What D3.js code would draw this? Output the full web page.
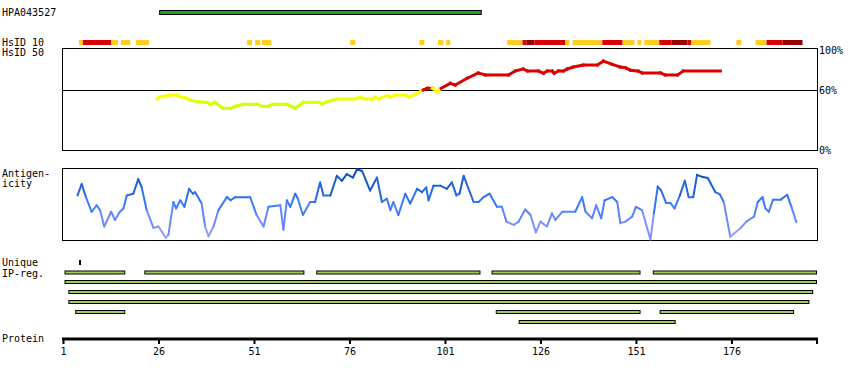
<!DOCTYPE html>
<html><head><meta charset="utf-8">
<script src="https://cdn.jsdelivr.net/npm/d3@7"></script>
<style>
body{margin:0;background:#fff;}
svg text{font-family:"DejaVu Sans Mono",monospace;font-size:10px;fill:#000;}
</style></head>
<body><svg id="c" width="850" height="380"></svg>
<script>
// ---------- DATA ----------
const antibodyName = "HPA043527";
const antibodyRange = [26.3, 110.5];
const protTicks = [1, 26, 51, 76, 101, 126, 151, 176];
const protLength = 198.4;
// HsID 10 identity cells: [start, end, level] level 1=yellow 2=red 3=darkred
const hsid10 = [
 [5.2,6.2,1],[6.2,13.6,2],[13.6,15.4,1],[16.2,18.6,1],[20.1,23.5,1],
 [49.2,50.5,1],[51.3,52.6,1],[53.1,55.5,1],[76.2,77.5,1],[94.3,95.6,1],
 [99.2,100.6,1],[101.3,102.4,1],[117.3,121.3,1],[121.3,122.3,2],[122.3,124.4,3],
 [124.4,132.5,2],[132.5,133.6,1],[134.4,142.2,1],[142.2,147.5,2],[147.5,150.6,1],
 [151.4,152.4,1],[153.2,157.1,1],[157.1,160.3,2],[160.3,164.5,3],[164.5,165.5,2],
 [165.5,170.5,1],[177.3,178.6,1],[182.3,185.2,1],[185.2,189.4,2],[189.4,194.6,3]
];
// HsID 50 similarity (%) by residue
const simRes = [25.6,26.4,29.0,30.9,31.7,33.0,34.3,36.1,38.7,39.5,40.8,42.9,44.8,46.1,48.2,51.8,53.1,54.7,55.8,59.7,61.8,63.9,67.8,68.9,70.2,72.8,77.5,78.8,80.1,82.0,82.7,83.5,85.9,86.7,88.0,90.6,91.7,93.2,95.3,96.4,97.7,99.0,100.0,102.4,103.7,106.8,109.7,111.6,117.6,119.4,121.5,122.6,125.4,126.8,127.8,129.1,129.6,130.7,132.0,133.0,134.6,137.2,140.9,142.5,144.8,146.9,148.2,149.6,151.6,152.7,157.4,158.7,161.9,163.4,173.1];
const simVal = [51.3,53.3,55.3,55.3,53.3,52.6,50.3,48.5,47.9,45.9,47.9,41.9,41.9,43.9,45.9,45.9,43.9,43.9,45.9,45.9,41.9,47.9,47.9,46.5,48.5,51.3,51.3,53.0,51.3,51.3,53.0,51.3,54.6,53.3,55.3,55.3,53.3,56.0,60.3,62.0,62.0,58.6,62.0,67.0,65.3,72.1,77.4,75.4,75.4,79.4,81.4,79.4,79.4,77.1,79.4,79.4,77.1,79.4,79.4,81.4,83.4,85.4,85.4,89.4,86.1,83.4,82.7,80.1,79.4,77.4,77.4,75.4,75.4,79.4,79.4];
const simTicks = [0, 60, 100];
// Antigenicity by residue (relative score 0-100)
const antRes = [4.8,5.9,7.0,8.5,9.8,10.7,11.8,13.6,14.6,15.9,16.8,17.7,19.4,20.7,21.6,22.9,24.7,26.0,27.9,28.6,29.9,30.6,31.7,32.8,34.0,35.0,35.6,37.3,38.2,39.1,40.4,41.7,43.9,44.9,46.1,47.4,50.0,51.7,53.5,54.8,57.9,58.7,59.6,60.5,61.8,62.5,63.8,65.7,67.0,68.3,69.2,71.0,72.7,74.0,75.3,76.9,78.0,79.3,81.4,83.2,84.5,85.8,86.7,87.5,88.8,90.6,91.9,93.7,95.0,96.1,96.7,98.0,99.8,101.5,102.8,104.0,104.8,105.9,108.5,109.8,111.1,112.7,114.6,115.9,117.1,119.0,120.3,122.0,123.4,124.8,126.0,127.7,129.0,129.9,131.7,135.1,136.9,137.8,139.5,140.6,141.9,142.8,144.8,146.1,146.9,148.2,150.0,151.0,152.6,154.8,155.7,156.7,157.6,158.9,160.0,161.1,162.5,163.8,164.8,166.0,167.0,168.3,169.8,171.8,173.0,174.0,175.7,178.4,179.9,181.9,182.9,184.1,184.9,185.8,186.9,188.9,190.6,191.7,193.0];
const antVal = [62.5,78.8,60.1,39.3,48.6,41.7,18.5,39.3,27.8,39.3,44.0,62.5,64.9,85.7,74.0,41.7,16.3,18.5,2.4,6.9,53.2,44.0,55.6,46.3,71.8,64.9,67.1,51.0,18.5,4.6,18.5,41.7,60.1,55.6,60.1,60.1,60.1,34.7,18.5,46.3,48.6,13.9,55.6,46.3,64.9,57.9,34.7,53.2,53.2,81.0,62.5,62.5,90.3,83.3,92.6,87.9,99.6,97.2,69.4,87.9,53.2,57.9,41.7,53.2,34.7,64.9,51.0,71.8,67.1,74.0,55.6,76.4,76.4,71.8,81.0,62.5,64.9,90.3,53.2,53.2,60.1,64.9,46.3,46.3,25.4,20.8,25.4,42.6,34.7,10.1,25.4,18.5,37.1,27.8,39.3,39.3,60.1,39.3,30.1,48.6,30.1,55.6,60.1,53.2,23.2,25.4,32.4,46.3,41.7,0,37.1,75.0,69.4,51.8,51.8,44.0,62.5,83.3,60.1,60.1,91.7,88.9,87.1,67.1,63.9,53.2,3.8,16.3,25.4,32.4,53.2,60.1,44.0,39.3,56.5,56.5,63.5,46.3,24.6];
// Unique / IP regions: rows of [start, end]
const uniqueRes = [5.2];
const ipRows = [
 [[1.4,17.3],[22.3,64.2],[67.3,110.3],[113.2,152.2],[155.4,198.4]],
 [[1.4,198.4]],
 [[2.4,197.4]],
 [[2.4,196.4]],
 [[4.2,17.3],[114.3,152.2],[157.2,192.4]],
 [[120.3,161.4]]
];

// ---------- DRAW ----------
const svg = d3.select("#c");
const x = d3.scaleLinear().domain([1, protLength]).range([63, 817]);

// left labels
const labels = [["HPA043527",16],["HsID 10",46],["HsID 50",56],["Antigen-",176.5],["icity",186.5],["Unique",266],["IP-reg.",277],["Protein",342]];
svg.selectAll("text.lbl").data(labels).join("text").attr("class","lbl")
  .attr("x",2).attr("y",d=>d[1]).text(d=>d[0]);

// antibody bar
svg.append("rect").attr("x",x(antibodyRange[0])).attr("y",10.5)
  .attr("width",x(antibodyRange[1])-x(antibodyRange[0])).attr("height",4)
  .attr("fill","#22a022").attr("stroke","#000").attr("stroke-width",1);

// HsID 10
const hsColor = {1:"#ffcc22",2:"#dd0000",3:"#990000"};
svg.selectAll("rect.h10").data(hsid10).join("rect").attr("class","h10")
  .attr("x",d=>x(d[0])).attr("y",40).attr("width",d=>x(d[1])-x(d[0])).attr("height",5)
  .attr("fill",d=>hsColor[d[2]]);

// HsID 50 box
const ys = d3.scaleLinear().domain([0,100]).range([150,50.5]);
svg.append("rect").attr("x",62.5).attr("y",48.5).attr("width",755).attr("height",102)
  .attr("fill","none").attr("stroke","#000").attr("stroke-width",1);
svg.append("line").attr("x1",62.5).attr("x2",817.5).attr("y1",Math.round(ys(60))+0.5).attr("y2",Math.round(ys(60))+0.5)
  .attr("stroke","#000").attr("stroke-width",1);
const simAxis = svg.append("g").attr("transform","translate(817,0)")
  .call(d3.axisRight(ys).tickValues(simTicks).tickSize(0).tickPadding(2).tickFormat(d=>d+"%"));
simAxis.select(".domain").remove();
simAxis.selectAll("text").attr("font-family",null).attr("font-size",null);
simAxis.attr("font-family",null).attr("font-size",null);

const lowCol = d3.scaleLinear().domain([42,48,54]).range(["#ccff00","#ddff00","#ffff00"]).clamp(true);
const simColor = v => v >= 60 ? "#dd0000" : lowCol(v);
const simSegs = d3.range(simRes.length-1).map(i=>({x1:simRes[i],y1:simVal[i],x2:simRes[i+1],y2:simVal[i+1]}));
svg.selectAll("line.sim").data(simSegs).join("line").attr("class","sim")
  .attr("x1",d=>x(d.x1)).attr("y1",d=>ys(d.y1)).attr("x2",d=>x(d.x2)).attr("y2",d=>ys(d.y2))
  .attr("stroke",d=>simColor(Math.min(d.y1,d.y2))).attr("stroke-width",3).attr("stroke-linecap","square");

// Antigenicity
const ya = d3.scaleLinear().domain([0,100]).range([239.5,169]);
svg.append("rect").attr("x",62.5).attr("y",168.5).attr("width",755).attr("height",72)
  .attr("fill","none").attr("stroke","#000").attr("stroke-width",1);
const antColor = d3.scaleLinear().domain([0,50,100]).range(["#b0a0ff","#3a7bff","#0048b0"]);
const antSegs = d3.range(antRes.length-1).map(i=>({x1:antRes[i],y1:antVal[i],x2:antRes[i+1],y2:antVal[i+1]}));
svg.selectAll("line.ant").data(antSegs).join("line").attr("class","ant")
  .attr("x1",d=>x(d.x1)).attr("y1",d=>ya(d.y1)).attr("x2",d=>x(d.x2)).attr("y2",d=>ya(d.y2))
  .attr("stroke",d=>antColor((d.y1+d.y2)/2)).attr("stroke-width",2).attr("stroke-linecap","round");

// Unique mark
svg.selectAll("rect.uq").data(uniqueRes).join("rect").attr("class","uq")
  .attr("x",d=>x(d)).attr("y",260).attr("width",2).attr("height",5).attr("fill","#000");

// IP rows
ipRows.forEach((row,ri)=>{
  svg.selectAll("rect.ip"+ri).data(row).join("rect").attr("class","ip"+ri)
    .attr("x",d=>x(d[0])+0.5).attr("y",271+ri*10 - (ri>0?0.5:0)).attr("width",d=>x(d[1])-x(d[0])-1).attr("height",3)
    .attr("fill","#a0cc5c").attr("stroke","#000").attr("stroke-width",1);
});

// Protein axis
const pAxis = svg.append("g").attr("transform","translate(0,339)")
  .call(d3.axisBottom(x).tickValues(protTicks).tickSize(5).tickPadding(4).tickSizeOuter(0).tickFormat(d3.format("d")));
pAxis.attr("font-family",null).attr("font-size",null);
pAxis.select(".domain").remove();
pAxis.selectAll(".tick line").attr("stroke","#000").attr("stroke-width",2);
svg.append("line").attr("x1",x(1)-1).attr("x2",x(protLength)+1).attr("y1",339).attr("y2",339)
  .attr("stroke","#000").attr("stroke-width",3);
svg.append("line").attr("x1",x(protLength)).attr("x2",x(protLength)).attr("y1",339).attr("y2",344)
  .attr("stroke","#000").attr("stroke-width",2);
</script></body></html>
